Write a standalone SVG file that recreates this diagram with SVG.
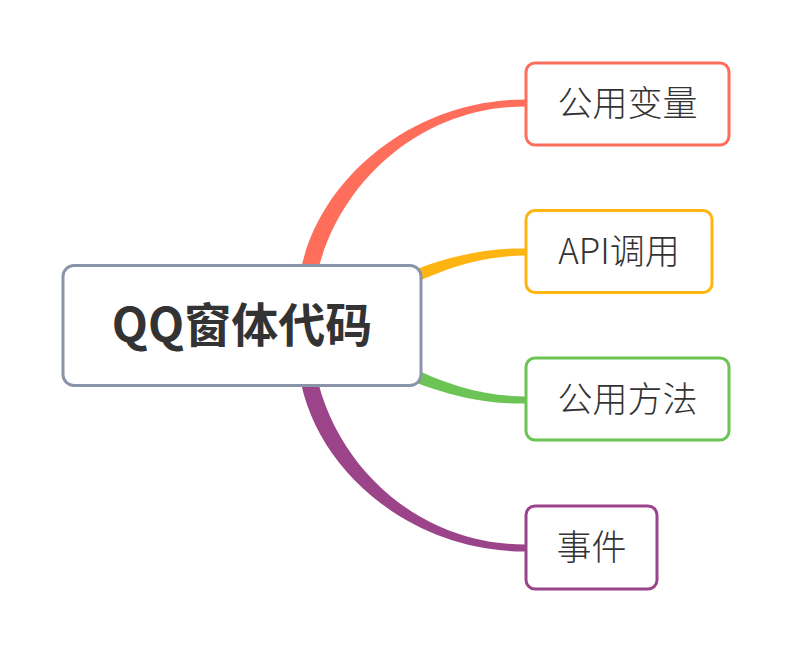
<svg xmlns="http://www.w3.org/2000/svg" width="792" height="652" viewBox="0 0 792 652">
<style>
.node{fill:#fff;stroke-width:3}
.t{font-family:"Noto Sans CJK SC","Noto Sans",sans-serif;fill:#333;text-anchor:middle}
.ct{font-size:47px;font-weight:bold}
.st{font-size:35px;font-weight:300}
</style>
<rect width="792" height="652" fill="#fff"/>
<g id="connectors">
<path d="M298 290 C306 190 405 99.5 525 99.5 L525 106.5 C414 106.5 329 192 314 290 Z" fill="#FF6E5B"/>
<path d="M395 278 C445 256 485 248 525 248.5 L525 255.5 C488 256 452 264 402 289 Z" fill="#FFB511"/>
<path d="M395 374 C445 396 485 404 525 403.5 L525 396.5 C488 396 452 388 402 363 Z" fill="#6BC453"/>
<path d="M298 362 C306 462 405 551.5 525 551.5 L525 544.5 C414 544.5 329 460 314 362 Z" fill="#9B4489"/>
</g>
<g id="root">
<rect class="node" x="63" y="265.5" width="358" height="120" rx="11" stroke="#8A94A9"/>
<text class="t ct" x="242" y="342">QQ窗体代码</text>
</g>
<g id="n1">
<rect class="node" x="526" y="63" width="203" height="82" rx="9" stroke="#FF6E5B"/>
<text class="t st" x="627.5" y="116">公用变量</text>
</g>
<g id="n2">
<rect class="node" x="526" y="210.5" width="186" height="82" rx="9" stroke="#FFB511"/>
<text class="t st" x="619" y="264">API调用</text>
</g>
<g id="n3">
<rect class="node" x="526" y="358" width="203" height="82" rx="9" stroke="#6BC453"/>
<text class="t st" x="627.5" y="412">公用方法</text>
</g>
<g id="n4">
<rect class="node" x="526" y="506" width="131" height="83" rx="9" stroke="#9B4489"/>
<text class="t st" x="591.5" y="560">事件</text>
</g>
</svg>
